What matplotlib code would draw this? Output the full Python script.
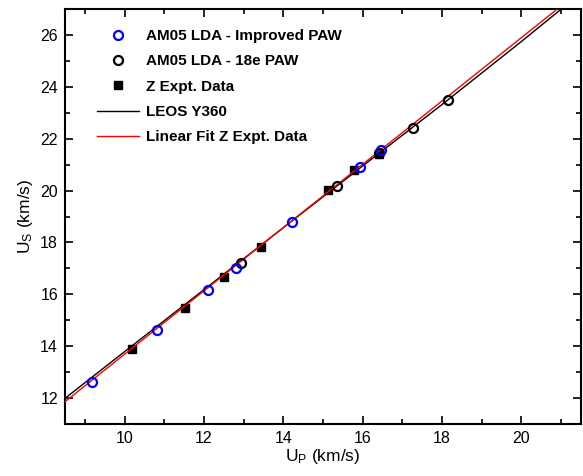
import matplotlib
matplotlib.use("Agg")
import matplotlib.pyplot as plt
from matplotlib.ticker import MultipleLocator

plt.rcParams['font.family'] = ['Liberation Sans', 'DejaVu Sans']
plt.rcParams['mathtext.default'] = 'regular'

# AM05 LDA - Improved PAW
imp_up = [9.17, 10.82, 12.09, 12.80, 14.23, 15.93, 16.46]
imp_us = [12.63, 14.62, 16.15, 17.01, 18.80, 20.90, 21.57]
# AM05 LDA - 18e PAW
paw_up = [12.93, 15.35, 16.42, 17.26, 18.15]
paw_us = [17.20, 20.18, 21.45, 22.43, 23.51]
# Z Expt. Data
z_up = [10.20, 11.52, 12.50, 13.43, 15.12, 15.79, 16.40]
z_us = [13.91, 15.47, 16.67, 17.82, 20.04, 20.81, 21.40]
# LEOS Y360
leos_up = [8.5, 10, 12, 14, 16, 18, 20, 21.5]
leos_us = [11.99, 13.79, 16.18, 18.57, 20.95, 23.32, 25.75, 27.62]
# Linear fit Z Expt. Data
fit_up = [8.5, 21.5]
fit_us = [11.86, 27.73]

fig = plt.figure(figsize=(5.83, 4.76), dpi=100)
ax = fig.add_axes([0.1115, 0.1092, 0.8851, 0.8718])

h3, = ax.plot(z_up, z_us, 's', color='black', markersize=5.5, linestyle='none',
              zorder=2, label='Z Expt. Data')
h4, = ax.plot(leos_up, leos_us, '-', color='black', lw=1.0, zorder=3, label='LEOS Y360')
h5, = ax.plot(fit_up, fit_us, '-', color='red', lw=1.0, zorder=4, label='Linear Fit Z Expt. Data')
h2, = ax.plot(paw_up, paw_us, 'o', mfc='none', mec='black', mew=1.6, markersize=6.5,
              linestyle='none', zorder=5, label='AM05 LDA - 18e PAW')
h1, = ax.plot(imp_up, imp_us, 'o', mfc='none', mec='blue', mew=1.6, markersize=6.5,
              linestyle='none', zorder=6, label='AM05 LDA - Improved PAW')

ax.set_xlim(8.5, 21.5)
ax.set_ylim(11, 27)
ax.xaxis.set_major_locator(MultipleLocator(2))
ax.xaxis.set_minor_locator(MultipleLocator(1))
ax.yaxis.set_major_locator(MultipleLocator(2))
ax.yaxis.set_minor_locator(MultipleLocator(1))
ax.tick_params(which='both', direction='in', top=True, right=True, width=1.2)
ax.tick_params(which='major', length=6, labelsize=11.5, pad=5)
ax.tick_params(which='minor', length=3.5)
for s in ax.spines.values():
    s.set_linewidth(1.5)

ax.set_xlabel('U$_P$ (km/s)', fontsize=12.5, labelpad=1)
ax.set_ylabel('U$_S$ (km/s)', fontsize=12.5, labelpad=4)

leg = ax.legend(handles=[h1, h2, h3, h4, h5], loc='upper left',
                bbox_to_anchor=(0.035, 0.985), frameon=False,
                prop={'weight': 'bold', 'size': 11}, handlelength=2.75,
                labelspacing=0.74, handletextpad=0.45)

fig.savefig('out.png', dpi=100)
